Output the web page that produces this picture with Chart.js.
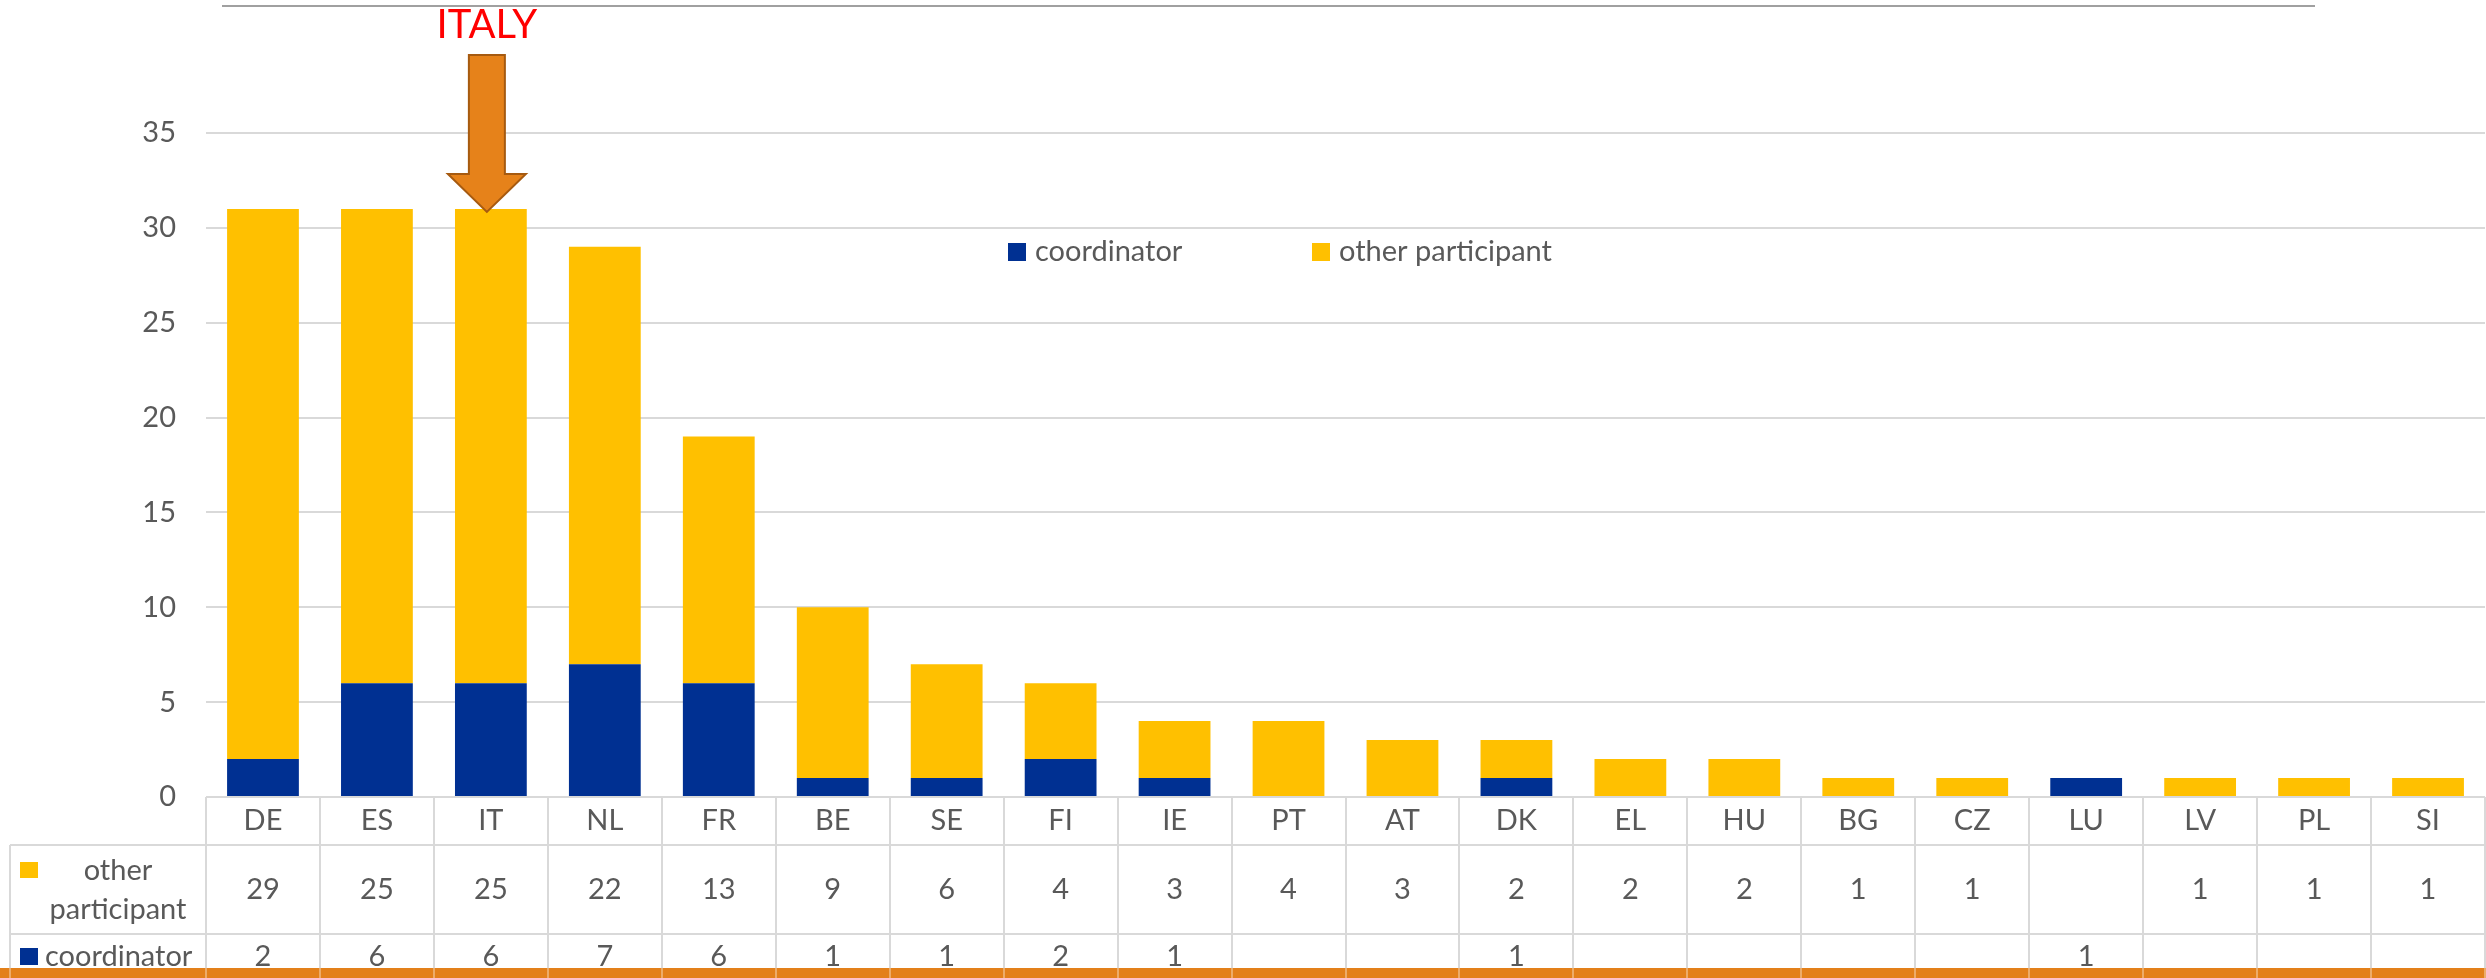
<!DOCTYPE html>
<html>
<head>
<meta charset="utf-8">
<script src="https://cdn.jsdelivr.net/npm/chart.js@4.4.1/dist/chart.umd.min.js"></script>
<style>
  html, body { margin: 0; padding: 0; background: #fff; }
  #wrap { width: 2486px; height: 978px; }
</style>
</head>
<body>
<div id="wrap"><canvas id="projChart" width="2486" height="978"></canvas></div>
<script>
// Data
const countries = ['DE', 'ES', 'IT', 'NL', 'FR', 'BE', 'SE', 'FI', 'IE', 'PT', 'AT', 'DK', 'EL', 'HU', 'BG', 'CZ', 'LU', 'LV', 'PL', 'SI'];
const coordinator = [2, 6, 6, 7, 6, 1, 1, 2, 1, null, null, 1, null, null, null, null, 1, null, null, null];
const otherParticipant = [29, 25, 25, 22, 13, 9, 6, 4, 3, 4, 3, 2, 2, 2, 1, 1, null, 1, 1, 1];
const yTicks = [0, 5, 10, 15, 20, 25, 30, 35];
const highlightCountry = 'IT';
const highlightLabel = 'ITALY';

const BLUE = '#003092';
const GOLD = '#FFC000';
const TEXT = '#595959';
const GRID = '#d9d9d9';
const ORANGE = '#E3801A';
const FONT = 'Lato, "Open Sans", sans-serif';

// Draws the arrow, the legend, the top rule and the data table under the bars
const decorations = {
    id: 'decorations',
    afterDraw(chart) {
        const ctx = chart.ctx;
        const area = chart.chartArea;
        const xs = chart.scales.x;
        const ys = chart.scales.y;
        const cellW = (area.right - area.left) / countries.length;
        const sets = chart.data.datasets;

        ctx.save();

        // thin rule at the very top
        ctx.strokeStyle = '#a0a0a0';
        ctx.lineWidth = 2;
        ctx.beginPath();
        ctx.moveTo(222, 6);
        ctx.lineTo(2315, 6);
        ctx.stroke();

        // ITALY arrow
        const idx = countries.indexOf(highlightCountry);
        const total = (coordinator[idx] || 0) + (otherParticipant[idx] || 0);
        const cx = xs.getPixelForValue(idx) - 4;
        const tip = ys.getPixelForValue(total) + 3;
        const headTop = tip - 38;
        ctx.fillStyle = '#E6821A';
        ctx.strokeStyle = '#A65A10';
        ctx.lineWidth = 2;
        ctx.beginPath();
        ctx.moveTo(cx - 18, 55);
        ctx.lineTo(cx + 18, 55);
        ctx.lineTo(cx + 18, headTop);
        ctx.lineTo(cx + 39, headTop);
        ctx.lineTo(cx, tip);
        ctx.lineTo(cx - 39, headTop);
        ctx.lineTo(cx - 18, headTop);
        ctx.closePath();
        ctx.fill();
        ctx.stroke();

        ctx.fillStyle = '#FF0000';
        ctx.font = '40px ' + FONT;
        ctx.textAlign = 'center';
        ctx.textBaseline = 'middle';
        ctx.fillText(highlightLabel, cx, 25);

        // legend inside plot
        ctx.font = '29px ' + FONT;
        ctx.textAlign = 'left';
        const legendX = [1008, 1312];
        sets.forEach((ds, i) => {
            ctx.fillStyle = ds.backgroundColor;
            ctx.fillRect(legendX[i], 243, 18, 18);
            ctx.fillStyle = TEXT;
            ctx.fillText(ds.label, legendX[i] + 27, 252);
        });

        // data table
        const top = area.bottom;
        const row1 = 845;
        const row2 = 934;
        const bandTop = 968;
        const bottom = chart.height;

        ctx.strokeStyle = GRID;
        ctx.lineWidth = 2;
        ctx.beginPath();
        ctx.moveTo(area.left, top);
        ctx.lineTo(area.right, top);
        ctx.moveTo(10, row1);
        ctx.lineTo(area.right, row1);
        ctx.moveTo(10, row2);
        ctx.lineTo(area.right, row2);
        ctx.moveTo(10, row1);
        ctx.lineTo(10, bottom);
        for (let i = 0; i <= countries.length; i++) {
            const bx = Math.round(area.left + i * cellW);
            ctx.moveTo(bx, top);
            ctx.lineTo(bx, bottom);
        }
        ctx.stroke();

        ctx.fillStyle = TEXT;
        ctx.font = '29px ' + FONT;
        ctx.textAlign = 'center';
        countries.forEach((c, i) => {
            const mx = xs.getPixelForValue(i);
            ctx.fillText(c, mx, 821);
            if (otherParticipant[i] != null) ctx.fillText(String(otherParticipant[i]), mx, 890);
            if (coordinator[i] != null) ctx.fillText(String(coordinator[i]), mx, 957);
        });

        // row headers
        ctx.fillStyle = GOLD;
        ctx.fillRect(20, 862, 18, 16);
        ctx.fillStyle = TEXT;
        ctx.fillText('other', 118, 871);
        ctx.fillText('participant', 118, 910);
        ctx.fillStyle = BLUE;
        ctx.fillRect(20, 948, 18, 17);
        ctx.fillStyle = TEXT;
        ctx.textAlign = 'left';
        ctx.fillText('coordinator', 45, 957);

        // orange band at the bottom
        ctx.fillStyle = ORANGE;
        ctx.fillRect(0, bandTop, chart.width, bottom - bandTop);
        ctx.strokeStyle = 'rgba(255,255,255,0.35)';
        ctx.beginPath();
        ctx.moveTo(10, bandTop);
        ctx.lineTo(10, bottom);
        for (let i = 0; i <= countries.length; i++) {
            const bx = Math.round(area.left + i * cellW);
            ctx.moveTo(bx, bandTop);
            ctx.lineTo(bx, bottom);
        }
        ctx.stroke();

        ctx.restore();
    }
};

const ctx = document.getElementById('projChart');
new Chart(ctx, {
    type: 'bar',
    data: {
        labels: countries,
        datasets: [
            {
                label: 'coordinator',
                data: coordinator,
                backgroundColor: BLUE,
                barPercentage: 0.63,
                categoryPercentage: 1
            },
            {
                label: 'other participant',
                data: otherParticipant,
                backgroundColor: GOLD,
                barPercentage: 0.63,
                categoryPercentage: 1
            }
        ]
    },
    options: {
        responsive: false,
        animation: false,
        devicePixelRatio: 1,
        layout: {
            padding: { top: 133, bottom: 181, left: 0, right: 1 }
        },
        plugins: {
            legend: { display: false },
            tooltip: { enabled: false }
        },
        scales: {
            x: {
                stacked: true,
                display: false
            },
            y: {
                stacked: true,
                min: yTicks[0],
                max: yTicks[yTicks.length - 1],
                afterFit(scale) { scale.width = 206; },
                afterBuildTicks(scale) {
                    scale.ticks = yTicks.map(v => ({ value: v }));
                },
                border: { display: false },
                grid: {
                    color: GRID,
                    lineWidth: 2,
                    drawTicks: false
                },
                ticks: {
                    color: TEXT,
                    padding: 30,
                    font: { family: FONT, size: 29 }
                }
            }
        }
    },
    plugins: [decorations]
});
</script>
</body>
</html>
